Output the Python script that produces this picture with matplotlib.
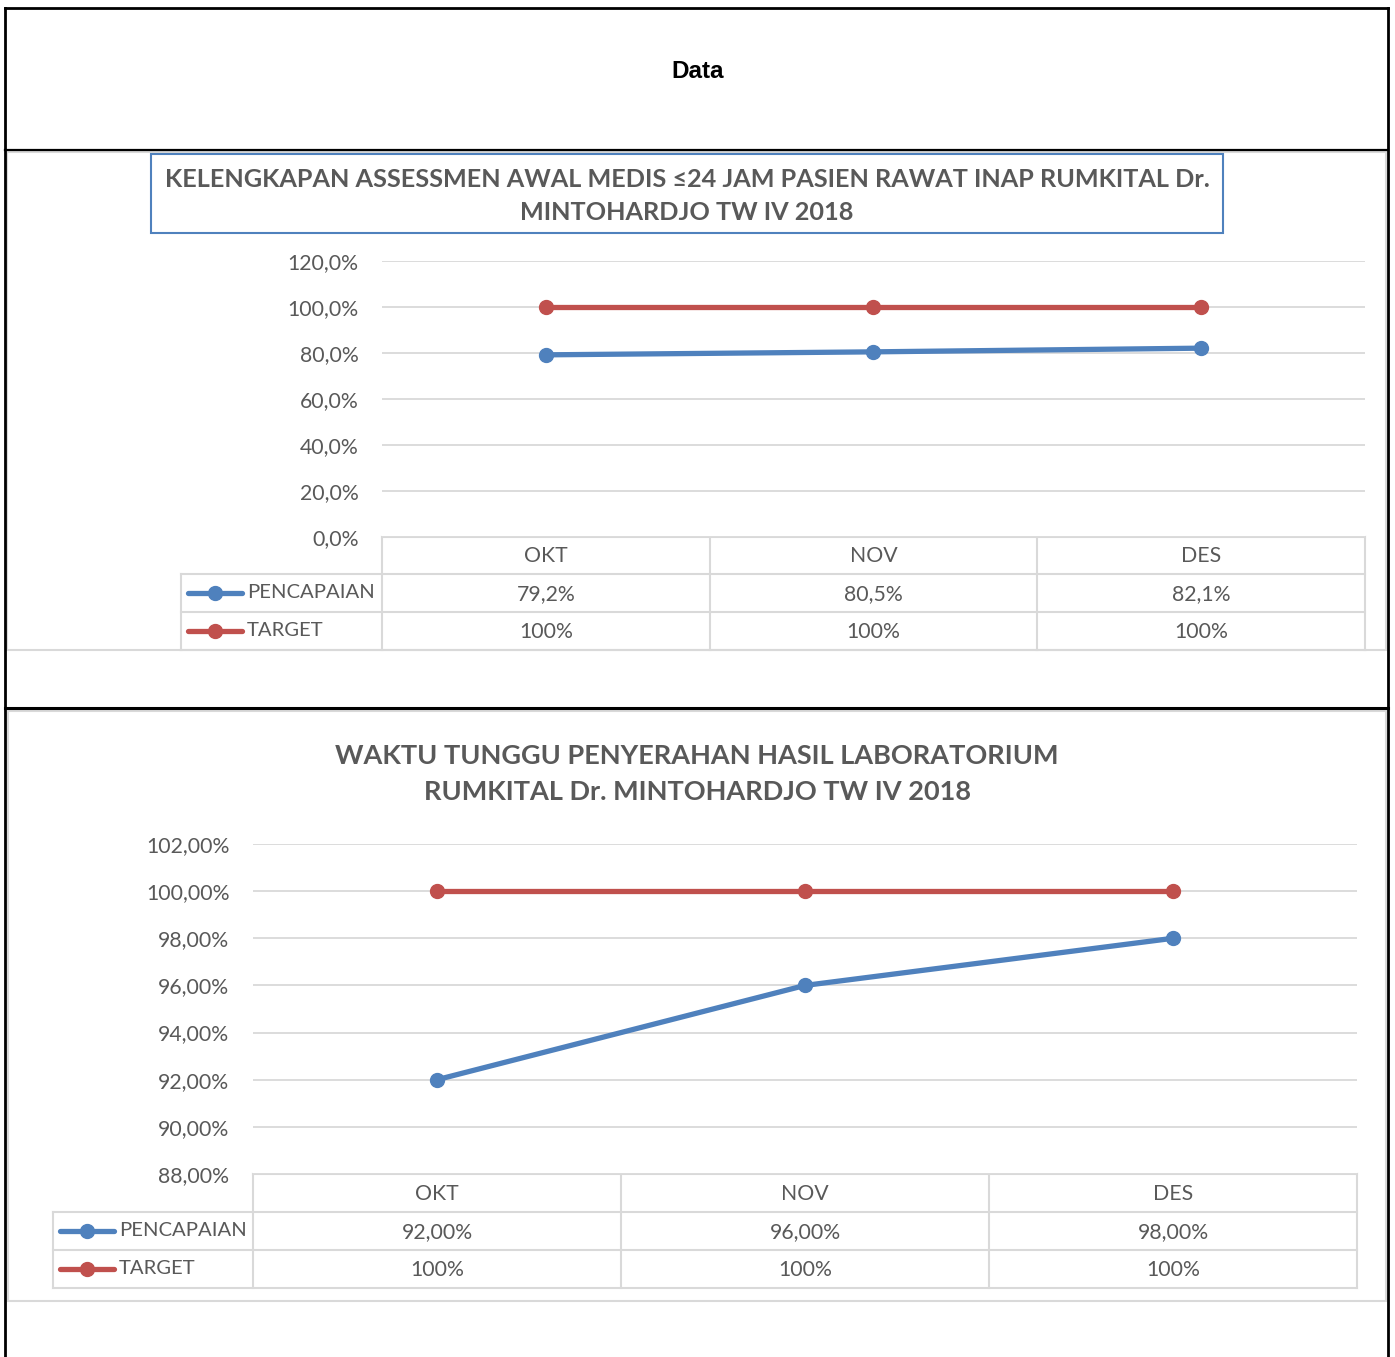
import matplotlib
matplotlib.use("Agg")
import matplotlib.pyplot as plt
from matplotlib.lines import Line2D
from matplotlib.patches import Rectangle
from matplotlib.transforms import blended_transform_factory

# data
months = ["OKT", "NOV", "DES"]
series_names = ["PENCAPAIAN", "TARGET"]

assess_pencapaian = [0.792, 0.805, 0.821]
assess_target = [1.0, 1.0, 1.0]
assess_ticks = [0.0, 0.2, 0.4, 0.6, 0.8, 1.0, 1.2]

lab_pencapaian = [0.92, 0.96, 0.98]
lab_target = [1.0, 1.0, 1.0]
lab_ticks = [0.88, 0.90, 0.92, 0.94, 0.96, 0.98, 1.00, 1.02]

title1 = "KELENGKAPAN ASSESSMEN AWAL MEDIS \u226424 JAM PASIEN RAWAT INAP RUMKITAL Dr.\nMINTOHARDJO TW IV 2018"
title2 = "WAKTU TUNGGU PENYERAHAN HASIL LABORATORIUM\nRUMKITAL Dr. MINTOHARDJO TW IV 2018"

BLUE = "#4f81bd"
RED = "#c0504d"
GRID = "#d9d9d9"
TXT = "#595959"
FONT = ["Lato", "DejaVu Sans"]
FS = 15.3

W, H = 1395, 1357
fig = plt.figure(figsize=(W / 100, H / 100), dpi=100)

# background axes in pixel coordinates
bg = fig.add_axes([0, 0, 1, 1])
bg.set_xlim(0, W)
bg.set_ylim(H, 0)
bg.axis("off")


def px_axes(x0, y0, x1, y1):
    return fig.add_axes([x0 / W, 1 - y1 / H, (x1 - x0) / W, (y1 - y0) / H])


def fmt(v, dec):
    return f"{v * 100:.{dec}f}%".replace(".", ",")


# black outer frame
bg.plot([5, 5], [8, H], color="black", lw=2)
bg.plot([1388, 1388], [8, H], color="black", lw=2)
bg.plot([5, 1388], [8, 8], color="black", lw=2)
bg.plot([5, 1388], [150, 150], color="black", lw=1.6)
bg.plot([5, 1388], [708, 708], color="black", lw=2.2)
bg.text(698, 71, "Data", ha="center", va="center", fontsize=17.5,
        fontweight="bold", family="Liberation Sans", color="black")

# chart area frames
bg.add_patch(Rectangle((7, 152), 1379, 498, fill=False, ec=GRID, lw=1.5))
bg.add_patch(Rectangle((8, 711), 1378, 590, fill=False, ec=GRID, lw=1.5))

# title box chart 1
bg.add_patch(Rectangle((151, 154), 1072, 79, fill=False, ec=BLUE, lw=1.5))
bg.text(687, 196, title1, ha="center", va="center", fontsize=18.2,
        fontweight="bold", family=FONT, color=TXT, linespacing=1.55)
bg.text(697, 774, title2, ha="center", va="center", fontsize=19.5,
        fontweight="bold", family=FONT, color=TXT, linespacing=1.55)


def draw_chart(box, legx, ticks, dec_tick, pen, tgt, dec_val, rows):
    x0, y0, x1, y1 = box
    ax = px_axes(x0, y0, x1, y1)
    ax.set_xlim(-0.5, len(months) - 0.5)
    ax.set_ylim(ticks[0], ticks[-1])
    ax.set_yticks(ticks)
    ax.set_yticklabels([fmt(t, dec_tick) for t in ticks], fontsize=FS,
                       color=TXT, family=FONT)
    ax.set_xticks([])
    ax.tick_params(axis="y", length=0, pad=17)
    for s in ax.spines.values():
        s.set_visible(False)
    ax.grid(axis="y", color=GRID, lw=1.3)
    ax.set_axisbelow(True)
    xs = list(range(len(months)))
    ax.plot(xs, pen, color=BLUE, lw=3.8, marker="o", ms=10, clip_on=False, zorder=3)
    ax.plot(xs, tgt, color=RED, lw=3.8, marker="o", ms=10, clip_on=False, zorder=3)

    # data table
    r0, r1, r2, r3 = rows
    tr = blended_transform_factory(ax.transData, bg.transData)
    bg.plot([x0, x1], [r0, r0], color=GRID, lw=1.5)
    bg.plot([legx, x1], [r1, r1], color=GRID, lw=1.5)
    bg.plot([legx, x1], [r2, r2], color=GRID, lw=1.5)
    bg.plot([legx, x1], [r3, r3], color=GRID, lw=1.5)
    bg.plot([legx, legx], [r1, r3], color=GRID, lw=1.5)
    cw = (x1 - x0) / len(months)
    for i in range(len(months) + 1):
        xx = x0 + i * cw
        bg.plot([xx, xx], [r0, r3], color=GRID, lw=1.5)
    for i, m in enumerate(months):
        bg.text(i, (r0 + r1) / 2 + 1, m, transform=tr, ha="center", va="center",
                fontsize=FS, color=TXT, family=FONT)
        bg.text(i, (r1 + r2) / 2 + 1, fmt(pen[i], dec_val), transform=tr,
                ha="center", va="center", fontsize=FS, color=TXT, family=FONT)
        bg.text(i, (r2 + r3) / 2 + 1, f"{tgt[i] * 100:.0f}%", transform=tr,
                ha="center", va="center", fontsize=FS, color=TXT, family=FONT)
    for name, col, yc in [(series_names[0], BLUE, (r1 + r2) / 2),
                          (series_names[1], RED, (r2 + r3) / 2)]:
        bg.add_line(Line2D([legx + 7, legx + 61], [yc, yc], color=col, lw=3.8,
                           solid_capstyle="round"))
        bg.plot([legx + 34], [yc], marker="o", ms=10, color=col)
        bg.text(legx + 66, yc, name, ha="left", va="center", fontsize=14.6,
                color=TXT, family=FONT)


draw_chart((382, 261, 1365, 537), 181, assess_ticks, 1,
           assess_pencapaian, assess_target, 1, (537, 574, 612, 650))
draw_chart((253, 844, 1357, 1174), 53, lab_ticks, 2,
           lab_pencapaian, lab_target, 2, (1174, 1212, 1250, 1288))

fig.savefig("out.png", dpi=100)
